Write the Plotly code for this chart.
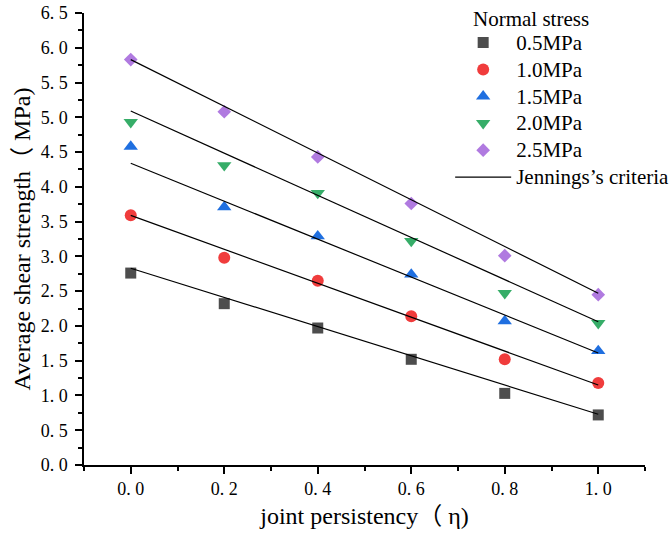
import plotly.graph_objects as go

# ---- data ----
persistency = [0.0, 0.2, 0.4, 0.6, 0.8, 1.0]
series_names = ["0.5MPa", "1.0MPa", "1.5MPa", "2.0MPa", "2.5MPa"]
s_05 = [2.76, 2.32, 1.97, 1.52, 1.03, 0.72]
s_10 = [3.59, 2.98, 2.65, 2.14, 1.52, 1.18]
s_15 = [4.58, 3.71, 3.29, 2.74, 2.07, 1.64]
s_20 = [4.93, 4.31, 3.91, 3.22, 2.47, 2.04]
s_25 = [5.83, 5.08, 4.43, 3.76, 3.01, 2.45]

# Jennings's criteria fitted lines (value at eta=0 and eta=1)
fit_x = [0.0, 1.0]
fit_05 = [2.83, 0.73]
fit_10 = [3.59, 1.15]
fit_15 = [4.34, 1.61]
fit_20 = [5.09, 2.06]
fit_25 = [5.83, 2.47]

x_tickvals = [0.0, 0.2, 0.4, 0.6, 0.8, 1.0]
x_ticktext = ["0.\u00a00", "0.\u00a02", "0.\u00a04", "0.\u00a06", "0.\u00a08", "1.\u00a00"]
y_tickvals = [0.0, 0.5, 1.0, 1.5, 2.0, 2.5, 3.0, 3.5, 4.0, 4.5, 5.0, 5.5, 6.0, 6.5]
y_ticktext = ["0.\u00a00", "0.\u00a05", "1.\u00a00", "1.\u00a05", "2.\u00a00", "2.\u00a05",
              "3.\u00a00", "3.\u00a05", "4.\u00a00", "4.\u00a05", "5.\u00a00", "5.\u00a05",
              "6.\u00a00", "6.\u00a05"]

series_values = [s_05, s_10, s_15, s_20, s_25]
fit_values = [fit_05, fit_10, fit_15, fit_20, fit_25]

symbols = ["square", "circle", "triangle-up", "triangle-down", "diamond"]
colors = ["#4d4d4d", "#f03c3c", "#1f6fe0", "#36ad68", "#b07ae0"]
sizes = [11, 12, 12.5, 12.5, 10.5]

SERIF = "Liberation Serif, Times New Roman, Noto Sans CJK SC, serif"


def big(t):
    return '<span style="font-size:21px">' + t + '</span>'


fig = go.Figure()
for name, vals, sym, col, sz in zip(series_names, series_values, symbols, colors, sizes):
    fig.add_trace(go.Scatter(
        x=persistency, y=vals, mode="markers", name=big(name),
        marker=dict(symbol=sym, color=col, size=sz, line=dict(width=0)),
    ))
for i, fv in enumerate(fit_values):
    fig.add_trace(go.Scatter(
        x=fit_x, y=fv, mode="lines", name=big("Jennings\u2019s criteria"),
        line=dict(color="black", width=1.2), showlegend=(i == 0),
    ))

axis_common = dict(
    showline=True, linecolor="black", linewidth=1.5,
    ticks="outside", ticklen=7, tickwidth=1.5, tickcolor="black",
    showgrid=False, zeroline=False, mirror=False,
    tickfont=dict(family=SERIF, size=18, color="black"),
    title_font=dict(family=SERIF, size=24, color="black"),
    ticklabeloverflow="allow",
)

fig.update_xaxes(
    range=[-0.1, 1.1], tickmode="array", tickvals=x_tickvals, ticktext=x_ticktext,
    title_text="joint persistency\uff08 \u03b7)", title_standoff=9,
    minor=dict(ticks="outside", ticklen=4, tickwidth=1.5, tickcolor="black",
               tickmode="linear", tick0=0.0, dtick=0.1),
    **axis_common,
)
fig.update_yaxes(
    range=[0, 6.5], tickmode="array", tickvals=y_tickvals, ticktext=y_ticktext,
    title_text="Average shear strength\uff08 MPa)", title_standoff=3,
    minor=dict(ticks="outside", ticklen=4, tickwidth=1.5, tickcolor="black",
               tickmode="linear", tick0=0.0, dtick=0.25),
    ticklabelstandoff=4,
    **axis_common,
)

fig.update_layout(
    width=671, height=535,
    margin=dict(l=83.5, r=26, t=13.3, b=70, autoexpand=False),
    plot_bgcolor="white", paper_bgcolor="white",
    showlegend=True,
    legend=dict(
        x=0.6527, y=0.9756, xanchor="left", yanchor="top",
        font=dict(family=SERIF, size=18.4, color="black"),
        bgcolor="rgba(0,0,0,0)", itemwidth=56, tracegroupgap=0,
        itemsizing="trace",
    ),
    annotations=[dict(
        text="Normal stress", xref="paper", yref="paper",
        x=0.690, y=1.0, xanchor="left", yanchor="bottom",
        yshift=-20, showarrow=False,
        font=dict(family=SERIF, size=21, color="black"),
    )],
)

fig.write_html(
    "out.html",
    config={"displayModeBar": False},
    post_script="document.body.style.margin='0px';document.body.style.overflow='hidden';",
)
